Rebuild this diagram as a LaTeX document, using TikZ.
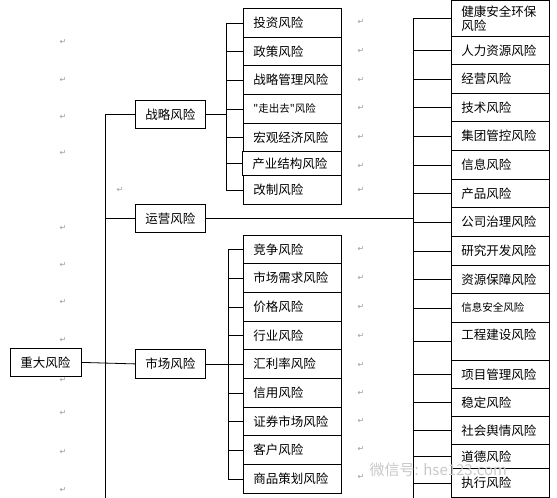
\documentclass[tikz,border=0pt]{standalone}
\usepackage{fontspec}
\newfontfamily\cjkfont{Noto Sans CJK SC}
\newfontfamily\symfont{DejaVu Sans}
\usepackage{tikz}
\usetikzlibrary{positioning, calc}
\usepackage{xcolor}
\definecolor{markgray}{HTML}{9A9A9A}
\definecolor{wmgray}{HTML}{C8C8C8}

\tikzset{
  box/.style={draw, line width=0.8pt, anchor=north west, inner xsep=10pt, inner ysep=0pt,
    text width=78pt, align=left, font=\cjkfont\fontsize{12.5}{14}\selectfont},
  smallbox/.style={box, font=\cjkfont\fontsize{10.5}{12}\selectfont},
  pmark/.style={text=markgray, font=\symfont\fontsize{8}{8}\selectfont, inner sep=0pt}
}

\begin{document}
\begin{tikzpicture}[x=1pt, y=-1pt, line width=0.8pt]
  \useasboundingbox (0,0) rectangle (557,498);
  % Stammlinien
  \coordinate (trunk) at (105,0);
  \coordinate (tend) at (105,498);
  \coordinate (sbar) at (226,0);
  \coordinate (mbar) at (228,0);
  \coordinate (rtop) at (413,0);
  \coordinate (rend) at (413,498);
  % Wurzel und erste Ebene
  \node[box, text width=51pt, minimum height=28pt] (root) at (10,348) {重大风险};
  \node[box, text width=50pt, minimum height=28pt] (zl) at (135,100) {战略风险};
  \node[box, text width=50pt, minimum height=28pt] (yy) at (135,204) {运营风险};
  \node[box, text width=50pt, minimum height=29pt] (sc) at (135,349) {市场风险};
  \draw (root.east) -- (sc.west);
  \draw (zl.west -| trunk) -- (tend);
  \draw (zl.west) -- (zl.west -| trunk);
  \draw (yy.west) -- (yy.west -| trunk);
  % Strategierisiken
  \foreach \t/\h/\n/\l in {8/29/s1/投资风险, 37/28/s2/政策风险, 65/29/s3/战略管理风险,
      123/28/s5/宏观经济风险, 175/29/s7/改制风险} {
    \node[box, minimum height=\h pt] (\n) at (243,\t) {\l};
    \draw (\n.west) -- (\n.west -| sbar);
  }
  \node[smallbox, minimum height=29pt] (s4) at (243,94) {"走出去"风险};
  \node[box, minimum height=24pt, text width=79pt] (s6) at (242,151) {产业结构风险};
  \draw (s4.west) -- (s4.west -| sbar);
  \draw (s6.west) -- (s6.west -| sbar);
  \draw (s1.west -| sbar) -- (s7.west -| sbar);
  \draw (zl.east) -- (zl.east -| sbar);
  % Marktrisiken
  \foreach \t/\h/\n/\l in {235/28/m1/竞争风险, 263/29/m2/市场需求风险, 292/29/m3/价格风险,
      321/28/m4/行业风险, 349/29/m5/汇利率风险, 378/29/m6/信用风险,
      407/28/m7/证券市场风险, 435/29/m8/客户风险, 464/29/m9/商品策划风险} {
    \node[box, minimum height=\h pt] (\n) at (243,\t) {\l};
    \draw (\n.west) -- (\n.west -| mbar);
  }
  \draw (m1.west -| mbar) -- (m9.west -| mbar);
  \draw (sc.east) -- (sc.east -| mbar);
  % Betriebsrisiken
  \foreach \t/\h/\n/\l in {0/36/r1/{健康安全环保\\风险}, 36/28/r2/人力资源风险, 64/29/r3/经营风险,
      93/28/r4/技术风险, 121/29/r5/集团管控风险, 150/29/r6/信息风险, 179/28/r7/产品风险,
      207/29/r8/公司治理风险, 236/29/r9/研究开发风险, 265/28/r10/资源保障风险,
      322/38/r12/{工程建设风险\\\mbox{}}, 360/28/r13/项目管理风险, 388/28/r14/稳定风险,
      416/28/r15/社会舆情风险, 444/24/r16/道德风险, 468/29/r17/执行风险} {
    \node[box, minimum height=\h pt] (\n) at (451,\t) {\l};
    \draw (\n.west) -- (\n.west -| rtop);
  }
  \node[smallbox, minimum height=29pt] (r11) at (451,293) {信息安全风险};
  \draw (r11.west) -- (r11.west -| rtop);
  \draw (r1.west -| rtop) -- (rend);
  \draw (yy.east) -- (yy.east -| rtop);
  % Absatzmarken
  \foreach \x/\y [count=\i] in {63/42, 63/80, 63/117, 63/153, 120/190, 63/228, 63/265, 63/302,
      63/340, 63/380, 63/413, 63/452, 63/490, 361/22, 361/51, 361/80, 361/108, 361/137,
      361/166, 361/190, 361/249, 361/278, 361/307, 361/336, 361/365, 361/393, 361/421,
      361/449, 361/477}
    \node[pmark] (pm\i) at (\x,\y) {↵};
  % Wasserzeichen
  \node[text=wmgray, font=\cjkfont\fontsize{15}{15}\selectfont, anchor=west] (wm) at (366,470) {微信号: hse123.com};
\end{tikzpicture}
\end{document}
